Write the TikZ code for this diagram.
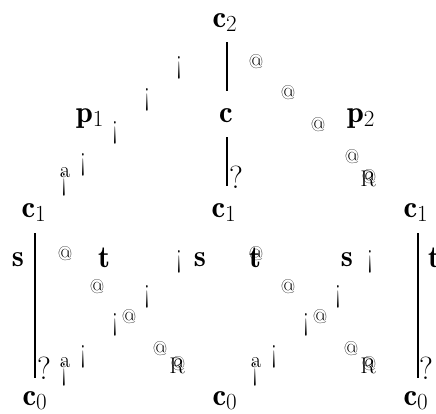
\documentclass[tikz,border=0pt]{standalone}
\usepackage{fontspec}
\usepackage{amsmath,amssymb}
\usetikzlibrary{positioning,calc}

\newcommand{\idown}{\scalebox{0.65}[1]{¡}}

\begin{document}
\begin{tikzpicture}[x=0.75pt,y=-0.75pt,
 obj/.style={inner sep=0pt,anchor=base,font=\fontsize{23}{26}\selectfont},
 dashglyph/.style={inner sep=0pt,font=\fontsize{24}{24}\selectfont},
 atglyph/.style={inner sep=0pt,font=\fontsize{15}{15}\selectfont},
 tipglyph/.style={inner sep=0pt,font=\fontsize{17}{17}\selectfont},
 bar/.style={draw,line width=1.6pt}]
\useasboundingbox (0,0) rectangle (436,414);
% objects
\node [obj] (c2) at (225,27) {$\mathbf{c}_2$};
\node [obj] (c) at (226,122) {$\mathbf{c}$};
\node [obj] (p1) at (90,122) {$\mathbf{p}_1$};
\node [obj] (p2) at (361,122) {$\mathbf{p}_2$};
\node [obj] (c1l) at (34,217) {$\mathbf{c}_1$};
\node [obj] (c1m) at (224,217) {$\mathbf{c}_1$};
\node [obj] (c1r) at (416,217) {$\mathbf{c}_1$};
\node [obj] (c0l) at (35,405) {$\mathbf{c}_0$};
\node [obj] (c0m) at (225,405) {$\mathbf{c}_0$};
\node [obj] (c0r) at (416,405) {$\mathbf{c}_0$};
\node [obj] (s1) at (18,266) {$\mathbf{s}$};
\node [obj] (t1) at (104,267) {$\mathbf{t}$};
\node [obj] (s2) at (200,266) {$\mathbf{s}$};
\node [obj] (t2) at (255,267) {$\mathbf{t}$};
\node [obj] (s3) at (347,266) {$\mathbf{s}$};
\node [obj] (t3) at (434,267) {$\mathbf{t}$};
% solid bars
\path [bar,shorten <=7.5pt,shorten >=12.75pt] ([xshift=1pt]c2.south -| c.north) -- ([xshift=1pt]c.north);
\path [bar,shorten <=11.25pt,shorten >=12.75pt] ([xshift=1pt]c.south) -- ([xshift=1pt]c.south |- c1m.north);
\path [bar,shorten <=8.25pt,shorten >=9.75pt] ([xshift=0.75pt]c1l.south) -- ([xshift=0.75pt]c1l.south |- c0l.north);
\path [bar,shorten <=8.25pt,shorten >=9.75pt] ([xshift=1.5pt]c1r.south) -- ([xshift=1.5pt]c1r.south |- c0r.north);
% upper pieces
\foreach \x/\y [count=\i] in {179/68,147/100,115/133,83/165}
  \node [dashglyph] (ul\i) at (\x,\y) {\idown};
\node [tipglyph] (ua) at (65,173) {a};
\node [dashglyph] (ub) at (64,185) {\idown};
\foreach \x/\y [count=\i] in {256/62,288/93,318/125,352/157}
  \node [atglyph] (ur\i) at (\x,\y) {@};
\node [tipglyph] (urR) at (368,179) {R};
\node [atglyph] (urA) at (369,177) {@};
% question marks
\node [dashglyph] (q1) at (236,177) {?};
\node [dashglyph] (q2) at (44,368) {?};
\node [dashglyph] (q3) at (426,368) {?};
% lower pieces
\foreach \o [count=\k] in {0,191} {
  \foreach \x/\y [count=\i] in {179/262,147/297,115/325,83/357}
    \node [dashglyph] (ll\k\i) at (\x+\o,\y) {\idown};
  \foreach \x/\y [count=\i] in {65/254,97/287,129/317,160/349}
    \node [atglyph] (lr\k\i) at (\x+\o,\y) {@};
  \node [tipglyph] (la\k) at (65+\o,363) {a};
  \node [dashglyph] (lb\k) at (64+\o,375) {\idown};
  \node [tipglyph] (lR\k) at (177+\o,366) {R};
  \node [atglyph] (lA\k) at (178+\o,364) {@};
}
\end{tikzpicture}
\end{document}
